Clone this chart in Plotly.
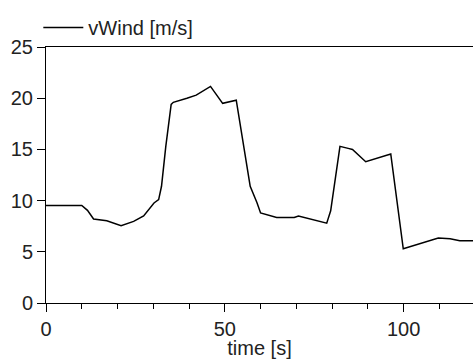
import plotly.graph_objects as go

time_s = [0, 10, 11.6, 13.3, 17, 21, 24.5, 27.3, 30.2, 31.5, 32.3, 33.5, 35, 35.6, 39.4, 42, 46,
          49.4, 53.2, 57.1, 59, 60, 64.5, 69.4, 70.6, 78.5, 79.6, 82.2, 84.5, 85.7, 89.4, 96.4,
          99.9, 109.7, 113, 115.7, 120]
vwind = [9.53, 9.53, 9.05, 8.2, 8.04, 7.55, 7.97, 8.5, 9.77, 10.1, 11.4, 15.3, 19.4, 19.6, 20.0,
         20.3, 21.15, 19.5, 19.8, 11.4, 9.8, 8.8, 8.36, 8.36, 8.5, 7.8, 9.0, 15.3, 15.1, 15.0,
         13.8, 14.55, 5.3, 6.35, 6.28, 6.08, 6.08]
x_ticks = [0, 50, 100]
y_ticks = [0, 5, 10, 15, 20, 25]

FONT = "Liberation Sans, Arial, sans-serif"

fig = go.Figure()
fig.add_trace(go.Scatter(x=time_s, y=vwind, mode="lines", name="vWind [m/s]",
                         line=dict(color="black", width=1.5)))

fig.update_layout(
    width=473, height=359,
    margin=dict(l=46, r=0, t=47, b=56),
    paper_bgcolor="white", plot_bgcolor="white",
    font=dict(family=FONT, size=20, color="#222"),
    showlegend=True,
    legend=dict(x=-0.018, y=1.0, xanchor="left", yanchor="bottom", orientation="h",
                bgcolor="rgba(0,0,0,0)", font=dict(size=20), itemwidth=40),
    xaxis=dict(range=[0, 119.4], tickvals=x_ticks, ticks="outside", ticklen=8, tickwidth=1,
               tickcolor="black", showline=True, linecolor="black", linewidth=1,
               mirror=True, showgrid=False, zeroline=False,
               minor=dict(dtick=10, ticks="outside", ticklen=5, tickcolor="black"),
               title=dict(text="time [s]", standoff=0, font=dict(size=20))),
    yaxis=dict(range=[0, 25], tickvals=y_ticks, ticks="outside", ticklen=8, tickwidth=1,
               tickcolor="black", showline=True, linecolor="black", linewidth=1,
               showgrid=False, zeroline=False),
)

fig.write_html("out.html")
